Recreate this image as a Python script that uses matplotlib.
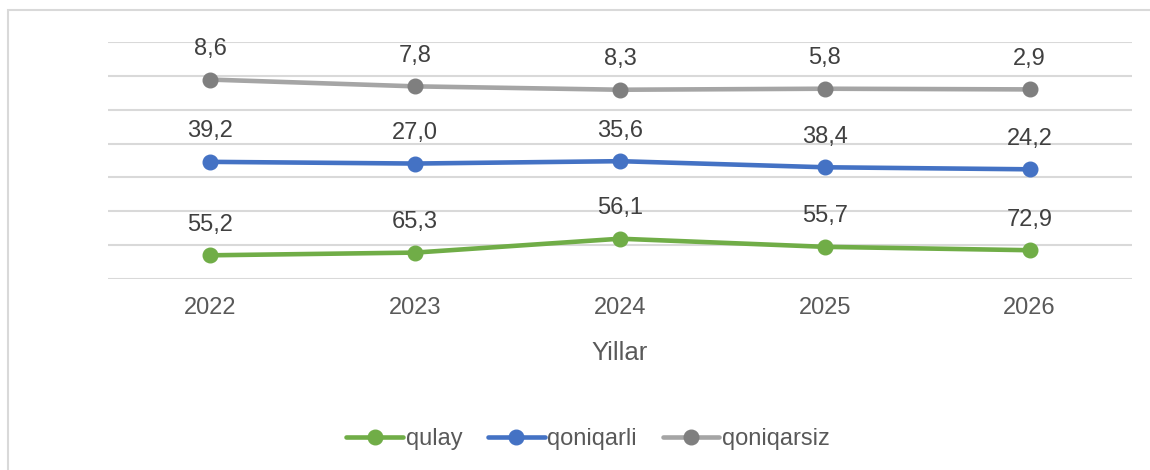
import matplotlib.pyplot as plt
from matplotlib.patches import Rectangle

plt.rcParams['font.family'] = ['Liberation Sans', 'DejaVu Sans']

years = ['2022', '2023', '2024', '2025', '2026']

# plotted heights (as drawn in the original, on an unlabeled 0..7 grid)
qulay_y = [0.70, 0.78, 1.19, 0.95, 0.85]
qoniqarli_y = [3.46, 3.41, 3.48, 3.30, 3.24]
qoniqarsiz_y = [5.89, 5.69, 5.59, 5.62, 5.60]

# data labels shown above the points
qulay_lbl = ['55,2', '65,3', '56,1', '55,7', '72,9']
qoniqarli_lbl = ['39,2', '27,0', '35,6', '38,4', '24,2']
qoniqarsiz_lbl = ['8,6', '7,8', '8,3', '5,8', '2,9']

fig = plt.figure(figsize=(11.5, 4.7), dpi=100)
ax = fig.add_axes([108 / 1150, 1 - 279 / 470, 1024 / 1150, 237 / 470])

# chart frame like the excel one (left + top edge only visible)
fig.patches.append(Rectangle((8 / 1150, -0.1), 1.2, 1 - 10 / 470 + 0.1,
                             transform=fig.transFigure, fill=False,
                             edgecolor='#d9d9d9', linewidth=1.5))

x = list(range(len(years)))
series = [
    ('qulay', qulay_y, qulay_lbl, '#70AD47', '#70AD47'),
    ('qoniqarli', qoniqarli_y, qoniqarli_lbl, '#4472C4', '#4472C4'),
    ('qoniqarsiz', qoniqarsiz_y, qoniqarsiz_lbl, '#A5A5A5', '#7F7F7F'),
]
for name, ys, lbls, col, mcol in series:
    ax.plot(x, ys, color=col, lw=3.3, marker='o', ms=10.5,
            markerfacecolor=mcol, markeredgecolor=mcol, label=name,
            solid_capstyle='round', zorder=3)
    for xi, yi, t in zip(x, ys, lbls):
        ax.annotate(t, (xi, yi), xytext=(0, 22), textcoords='offset points',
                    ha='center', va='center', fontsize=17, color='#404040')

ax.set_xlim(-0.5, 4.5)
ax.set_ylim(0, 7)
ax.set_yticks(range(8))
ax.set_yticklabels([])
ax.set_xticks(x)
ax.set_xticklabels(years)
ax.tick_params(axis='both', length=0)
ax.tick_params(axis='x', labelsize=17, labelcolor='#595959', pad=13)
ax.grid(axis='y', color='#d9d9d9', lw=1.5)
ax.set_axisbelow(True)
for s in ax.spines.values():
    s.set_visible(False)
ax.set_xlabel('Yillar', fontsize=18.5, color='#595959', labelpad=16)

fig.legend(loc='center', bbox_to_anchor=(588 / 1150, 1 - 439 / 470),
           ncol=3, frameon=False, fontsize=17, labelcolor='#595959',
           handlelength=2.4, handletextpad=0.1, columnspacing=1.1)

fig.savefig('out.png', dpi=100)
